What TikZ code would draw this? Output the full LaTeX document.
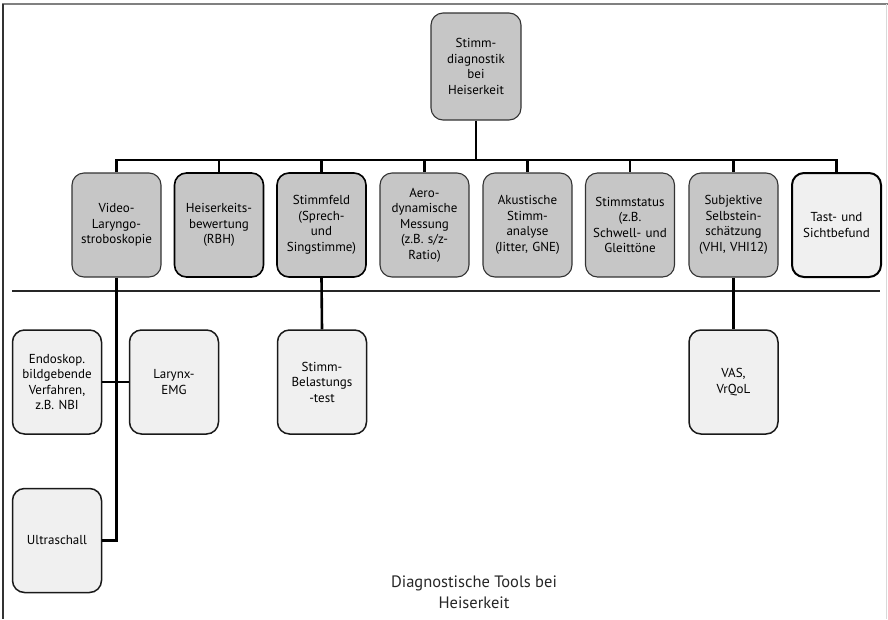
\documentclass[tikz,border=0pt]{standalone}
\usepackage{fontspec}
\setmainfont{PT Sans}
\begin{document}
\begin{tikzpicture}[x=1pt,y=-1pt,
  box/.style={rectangle,rounded corners=12pt,minimum width=89pt,minimum height=104pt,
    text width=86pt,align=center,inner sep=0pt,
    font=\fontsize{13}{15.5}\selectfont},
  graybox/.style={box,fill=boxgray,draw=black!80,line width=1.1pt},
  grayboxb/.style={box,fill=boxgray,draw=black,line width=1.6pt},
  lightbox/.style={box,fill=boxlight,draw=black!90,line width=1.5pt},
  conn/.style={line width=2.6pt,black},
  sepline/.style={line width=1.3pt,black!85},
]
\definecolor{boxgray}{HTML}{C6C6C6}
\definecolor{boxlight}{HTML}{F0F0F0}
\useasboundingbox (0,0) rectangle (888,619);
% frame
\draw[line width=1.6pt,black!50] (2,4) -- (888,4);
\draw[line width=1.3pt,black!80] (3,3.5) -- (3,619);
\draw[line width=1pt,black!15] (886,4) -- (886,619);

% root
\node[graybox,minimum width=90pt,minimum height=107pt] (root) at (476,66.5) {Stimm-\\diagnostik\\bei\\Heiserkeit};

% level 2
\node[graybox]  (v1) at (116.5,225) {Video-\\Laryngo-\\stroboskopie};
\node[grayboxb] (v2) at (219,225) {Heiserkeits-\\bewertung\\(RBH)};
\node[grayboxb] (v3) at (321.5,225) {Stimmfeld\\(Sprech-\\und\\Singstimme)};
\node[graybox]  (v4) at (424.5,225) {Aero-\\dynamische\\Messung\\(z.B. s/z-\\Ratio)};
\node[graybox]  (v5) at (527.5,225) {Akustische\\Stimm-\\analyse\\(Jitter, GNE)};
\node[graybox]  (v6) at (630,225) {Stimmstatus\\(z.B.\\Schwell- und\\Gleittöne};
\node[graybox]  (v7) at (733.5,225) {Subjektive\\Selbstein-\\schätzung\\(VHI, VHI12)};
\node[lightbox,draw=black,line width=2pt] (v8) at (836.5,225) {Tast- und\\Sichtbefund};

% level 3
\node[lightbox] (e1) at (57,382) {Endoskop.\\bildgebende\\Verfahren,\\z.B. NBI};
\node[lightbox] (e2) at (174,382) {Larynx-\\EMG};
\node[lightbox] (sb) at (322,382) {Stimm-\\Belastungs\\-test};
\node[lightbox] (vas) at (733.5,382) {VAS,\\VrQoL};
\node[lightbox] (us) at (57,540.5) {Ultraschall};

% caption
\node[align=center,font=\fontsize{16.5}{21}\selectfont,text=black!85] (cap) at (474,592) {Diagnostische Tools bei\\Heiserkeit};

% separator line
\coordinate (sepL) at (12,291);
\coordinate (sepR) at (880,291);
\draw[sepline] (sepL) -- (sepR);

% bus
\coordinate (bus) at (476,160);
\draw[conn] (root.south) -- (bus);
\draw[conn,line cap=rect] (v1.north |- bus) -- (v8.north |- bus);
\foreach \n in {v1,v2,v3,v4,v5,v6,v7,v8}{
  \draw[conn] (\n.north |- bus) -- (\n.north);
}

% video branch
\draw[conn] (v1.south) -- (v1.south |- us.east) -- (us.east);
\draw[conn] (e1.east) -- (e2.west);
% stimmfeld branch
\draw[conn] (v3.south) -- (sb.north);
% subjektive branch
\draw[conn] (v7.south) -- (vas.north);
\end{tikzpicture}
\end{document}
